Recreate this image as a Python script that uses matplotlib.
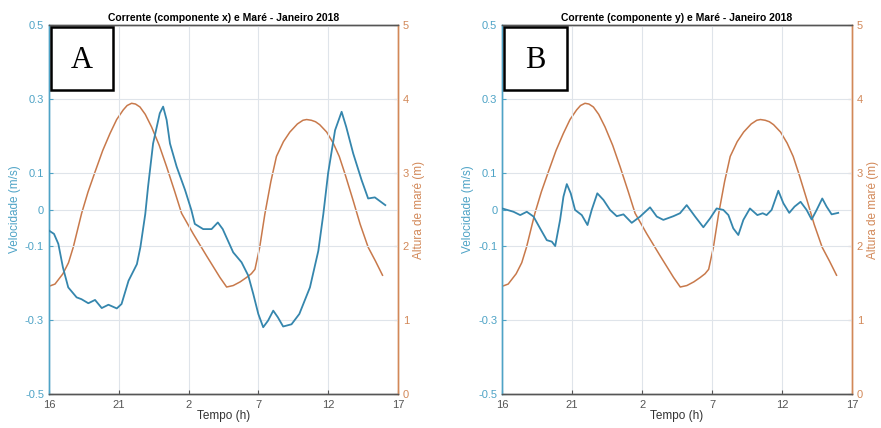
import matplotlib.pyplot as plt
from matplotlib.patches import Rectangle

plt.rcParams['font.family'] = ['Liberation Sans', 'DejaVu Sans']

# horas a partir das 16h (0 = 16h, 25 = 17h do dia seguinte)
xticks = [0, 5, 10, 15, 20, 25]
xticklabels = ['16', '21', '2', '7', '12', '17']
vticks = [-0.5, -0.3, -0.1, 0, 0.1, 0.3, 0.5]
vticklabels = ['-0.5', '-0.3', '-0.1', '0', '0.1', '0.3', '0.5']
hticks = [0, 1, 2, 3, 4, 5]

# mare (m) - igual nos dois graficos
mare_t = [0, 0.43, 1.0, 1.4, 1.74, 2.34, 2.8, 3.3, 3.85, 4.37, 4.85, 5.32, 5.6, 5.92,
          6.2, 6.52, 6.9, 7.35, 7.9, 8.43, 9.0, 9.5, 10.34, 11.3, 12.25, 12.73, 13.2,
          13.7, 14.16, 14.5, 14.76, 15.1, 15.47, 15.9, 16.3, 16.8, 17.26, 17.8, 18.2,
          18.46, 18.8, 19.1, 19.4, 19.9, 20.37, 20.8, 21.2, 21.8, 22.3, 22.87, 23.4, 23.9]
mare_h = [1.46, 1.49, 1.63, 1.78, 1.99, 2.45, 2.74, 3.01, 3.30, 3.53, 3.72, 3.85, 3.91, 3.94,
          3.93, 3.89, 3.79, 3.62, 3.37, 3.08, 2.75, 2.45, 2.17, 1.87, 1.58, 1.45, 1.47,
          1.52, 1.58, 1.63, 1.69, 1.99, 2.44, 2.88, 3.22, 3.42, 3.55, 3.66, 3.71,
          3.72, 3.71, 3.69, 3.65, 3.55, 3.40, 3.22, 2.99, 2.62, 2.30, 1.99, 1.80, 1.61]

# corrente componente x (m/s)
cx_t = [0, 0.36, 0.67, 1.0, 1.38, 1.98, 2.33, 2.82, 3.3, 3.78, 4.26, 4.86, 5.2, 5.7,
        6.3, 6.55, 6.9, 7.1, 7.46, 7.94, 8.18, 8.43, 8.67, 9.15, 9.75, 10.2, 10.45,
        11.05, 11.65, 12.1, 12.45, 13.2, 13.8, 14.28, 14.64, 15.0, 15.35, 15.7, 16.07,
        16.4, 16.78, 17.38, 17.94, 18.7, 19.3, 19.66, 20.0, 20.5, 20.97, 21.3, 21.8,
        22.4, 22.87, 23.35, 24.1]
cx_v = [-0.057, -0.066, -0.093, -0.157, -0.211, -0.238, -0.243, -0.254, -0.245, -0.267,
        -0.258, -0.268, -0.256, -0.193, -0.148, -0.102, -0.012, 0.062, 0.179, 0.261,
        0.279, 0.243, 0.179, 0.116, 0.053, -0.001, -0.039, -0.053, -0.053, -0.035,
        -0.053, -0.116, -0.143, -0.179, -0.229, -0.283, -0.319, -0.301, -0.274, -0.292,
        -0.317, -0.311, -0.283, -0.211, -0.112, -0.012, 0.098, 0.215, 0.265, 0.224,
        0.152, 0.080, 0.030, 0.033, 0.012]

# corrente componente y (m/s)
cy_t = [0, 0.81, 1.29, 1.76, 2.24, 2.71, 3.19, 3.55, 3.79, 4.14, 4.38, 4.62, 4.9, 5.21,
        5.69, 6.1, 6.4, 6.8, 7.24, 7.71, 8.19, 8.67, 9.26, 9.86, 10.57, 11.05, 11.52,
        12.24, 12.71, 13.19, 13.79, 14.38, 14.86, 15.33, 15.81, 16.17, 16.52, 16.88,
        17.24, 17.71, 18.24, 18.62, 18.9, 19.26, 19.74, 20.1, 20.52, 20.9, 21.33,
        21.76, 22.12, 22.48, 22.88, 23.19, 23.55, 24.02]
cy_v = [0.003, -0.006, -0.015, -0.006, -0.019, -0.051, -0.083, -0.087, -0.099, -0.028,
        0.035, 0.069, 0.044, -0.001, -0.015, -0.042, -0.001, 0.044, 0.026, -0.001,
        -0.018, -0.013, -0.036, -0.019, 0.006, -0.019, -0.028, -0.018, -0.010, 0.012,
        -0.019, -0.048, -0.024, 0.003, -0.001, -0.015, -0.051, -0.069, -0.028, 0.003,
        -0.015, -0.010, -0.015, -0.001, 0.051, 0.017, -0.009, 0.008, 0.021, -0.001,
        -0.027, -0.001, 0.030, 0.008, -0.013, -0.009]

azul = '#3586ad'
azul_eixo = '#4ea3c6'
laranja = '#c8794b'
laranja_eixo = '#d28858'
cinza = '#555555'

fig = plt.figure(figsize=(8.81, 4.28), dpi=100)


def painel(rect, t, v, titulo, letra):
    ax = fig.add_axes(rect)
    ax2 = ax.twinx()
    ax.set_xlim(0, 25)
    ax.set_ylim(-0.5, 0.5)
    ax2.set_ylim(0, 5)
    ax.set_xticks(xticks)
    ax.set_xticklabels(xticklabels)
    ax.set_yticks(vticks)
    ax.set_yticklabels(vticklabels)
    ax2.set_yticks(hticks)
    ax.grid(True, color='#dfe4ea', linewidth=0.8)
    ax.set_axisbelow(True)

    ax2.plot(mare_t, mare_h, color=laranja, linewidth=1.1)
    ax.plot(t, v, color=azul, linewidth=1.3, zorder=3)
    ax.set_zorder(ax2.get_zorder() + 1)
    ax.patch.set_visible(False)

    ax.tick_params(axis='x', direction='in', length=3, labelsize=8, colors=cinza,
                   pad=4)
    ax.tick_params(axis='y', direction='in', length=3, labelsize=8,
                   colors=azul_eixo)
    ax2.tick_params(axis='y', direction='in', length=3, labelsize=8,
                    colors=laranja_eixo)
    for a in (ax, ax2):
        a.spines['left'].set_color(azul_eixo)
        a.spines['right'].set_color(laranja_eixo)
        a.spines['top'].set_color(cinza)
        a.spines['bottom'].set_color(cinza)
        for s in a.spines.values():
            s.set_linewidth(1.0)

    ax.set_title(titulo, fontsize=7.5, fontweight='bold', pad=3)
    ax.set_xlabel('Tempo (h)', fontsize=8.5, color='#333333', labelpad=0)
    ax.set_ylabel('Velocidade (m/s)', fontsize=8.5, color=azul_eixo, labelpad=3)
    ax2.set_ylabel('Altura de maré (m)', fontsize=8.5, color=laranja_eixo,
                   labelpad=3)

    ax.add_patch(Rectangle((0.006, 0.824), 0.178, 0.17, transform=ax.transAxes,
                           facecolor='white', edgecolor='black', linewidth=1.8,
                           zorder=5, clip_on=False))
    ax.text(0.095, 0.905, letra, transform=ax.transAxes, fontsize=22,
            family='Liberation Serif', ha='center', va='center', zorder=6)
    return ax


painel([0.0556, 0.0794, 0.396, 0.862], cx_t, cx_v,
       'Corrente (componente x) e Maré - Janeiro 2018', 'A')
painel([0.570, 0.0794, 0.397, 0.862], cy_t, cy_v,
       'Corrente (componente y) e Maré - Janeiro 2018', 'B')

fig.savefig('out.png', dpi=100)
